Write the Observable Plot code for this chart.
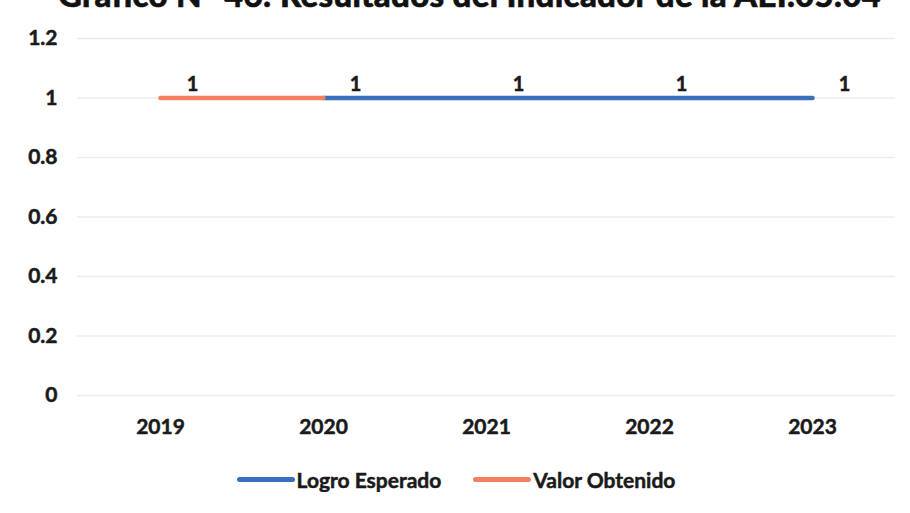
<!DOCTYPE html>
<html>
<head>
<meta charset="utf-8">
<script src="https://cdn.jsdelivr.net/npm/d3@7"></script>
<script src="https://cdn.jsdelivr.net/npm/@observablehq/plot@0.6"></script>
<style>
  body { margin: 0; background: #fff; font-family: Lato, "Open Sans", sans-serif; }
  #title { position: relative; height: 11px; overflow: hidden; width: 910px; }
  #title span { position: absolute; top: -26px; left: 58px; font-size: 33px; font-weight: 900; color: #111; white-space: nowrap; letter-spacing: 0.3px; -webkit-text-stroke: 0.6px #111; }
  #legend { display: flex; justify-content: center; align-items: center; gap: 32px; font-size: 21px; font-weight: bold; color: #1a1a1a; margin-top: 15px; padding-left: 2px; -webkit-text-stroke: 0.5px #1a1a1a; }
  .item { display: flex; align-items: center; }
  .sw { width: 58px; height: 5px; border-radius: 3px; margin-right: 2px; }
  #chart svg text { stroke: #1a1a1a; stroke-width: 0.5px; }
</style>
</head>
<body>
<div id="title"><span>Gráfico N° 46: Resultados del Indicador de la AEI.05.04</span></div>
<div id="chart"></div>
<div id="legend"></div>
<script>
const years = ["2019", "2020", "2021", "2022", "2023"];
const seriesNames = ["Logro Esperado", "Valor Obtenido"];
const seriesColors = ["#3a6fc0", "#f5805f"];
const logroYears = ["2020", "2021", "2022", "2023"];
const logroValues = [1, 1, 1, 1];
const valorYears = ["2019", "2020"];
const valorValues = [1, 1];
const yTicks = [0, 0.2, 0.4, 0.6, 0.8, 1, 1.2];

const logro = logroYears.map((y, i) => ({year: y, value: logroValues[i], series: seriesNames[0]}));
const valor = valorYears.map((y, i) => ({year: y, value: valorValues[i], series: seriesNames[1]}));
const labels = [...valor.filter(d => !logroYears.includes(d.year)), ...logro];

const chart = Plot.plot({
  width: 910,
  height: 441,
  marginTop: 27,
  marginBottom: 57,
  marginLeft: 77,
  marginRight: 15,
  style: {fontFamily: "Lato, 'Open Sans', sans-serif", fontSize: "21px", fontWeight: "bold", color: "#1a1a1a", background: "#fff"},
  x: {type: "point", domain: years, padding: 0.5, label: null, tickSize: 0, tickPadding: 24},
  y: {domain: [0, 1.2], ticks: yTicks, label: null, tickSize: 0, tickPadding: 20, tickFormat: d => String(+d.toFixed(1))},
  color: {domain: seriesNames, range: seriesColors},
  marks: [
    Plot.ruleY(yTicks, {stroke: "#ececec", strokeWidth: 1.5}),
    Plot.lineY(logro, {x: "year", y: "value", stroke: "series", strokeWidth: 4.5, strokeLinecap: "round"}),
    Plot.lineY(valor, {x: "year", y: "value", stroke: "series", strokeWidth: 4.5, strokeLinecap: "round"}),
    Plot.text(labels, {x: "year", y: "value", text: d => String(d.value), dx: 32, dy: -13, fontSize: 20, fontWeight: "bold", fill: "#1a1a1a"})
  ]
});
document.getElementById("chart").appendChild(chart);

const legend = document.getElementById("legend");
seriesNames.forEach((n, i) => {
  const item = document.createElement("div");
  item.className = "item";
  const sw = document.createElement("span");
  sw.className = "sw";
  sw.style.background = seriesColors[i];
  const t = document.createElement("span");
  t.textContent = n;
  item.appendChild(sw);
  item.appendChild(t);
  legend.appendChild(item);
});
</script>
</body>
</html>
